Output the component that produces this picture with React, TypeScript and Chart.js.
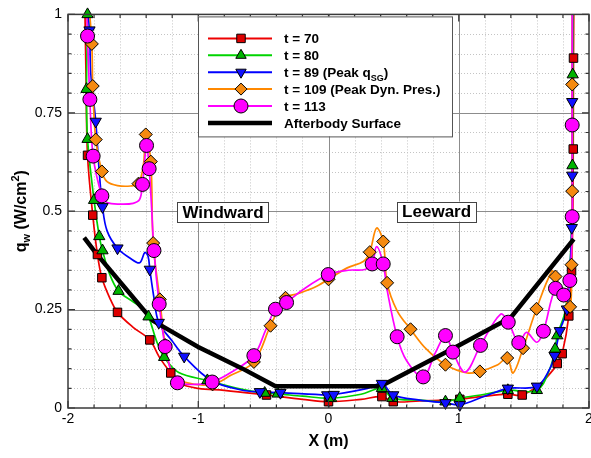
import React, { useEffect, useRef } from "react";
import { Chart, registerables } from "chart.js";
Chart.register(...registerables);

type Pt = [number, number];

const xTickValues = [-2, -1, 0, 1, 2];
const yTickValues = [0, 0.25, 0.5, 0.75, 1];

const t70Line: Pt[] = [
  [-1.872, 1.05], [-1.862, 0.85], [-1.85, 0.642], [-1.81, 0.49], [-1.774, 0.39], [-1.74, 0.331], [-1.68, 0.28],
  [-1.62, 0.243], [-1.5, 0.205], [-1.372, 0.173], [-1.3, 0.13], [-1.211, 0.089], [-1.14, 0.062], [-1.0, 0.05],
  [-0.8, 0.045], [-0.476, 0.033], [-0.2, 0.022], [0.0, 0.016], [0.25, 0.022], [0.41, 0.029], [0.497, 0.016],
  [0.7, 0.018], [0.9, 0.02], [1.008, 0.022], [1.2, 0.03], [1.377, 0.035], [1.487, 0.033], [1.62, 0.06],
  [1.72, 0.095], [1.756, 0.113], [1.794, 0.138], [1.845, 0.234], [1.866, 0.348], [1.876, 0.5], [1.879, 0.658],
  [1.881, 0.889], [1.884, 1.05],
];
const t70Marks: Pt[] = [
  [-1.85, 0.642], [-1.81, 0.49], [-1.774, 0.39], [-1.74, 0.331], [-1.62, 0.243], [-1.372, 0.173], [-1.211, 0.089],
  [-0.476, 0.033], [0.0, 0.016], [0.41, 0.029], [0.497, 0.016], [1.008, 0.022], [1.377, 0.035], [1.487, 0.033],
  [1.756, 0.113], [1.794, 0.138], [1.845, 0.234], [1.866, 0.348], [1.879, 0.658], [1.881, 0.889],
];

const t80Line: Pt[] = [
  [-1.858, 1.05], [-1.85, 1.0], [-1.858, 0.81], [-1.85, 0.683], [-1.8, 0.528], [-1.76, 0.436], [-1.735, 0.4],
  [-1.68, 0.34], [-1.612, 0.297], [-1.5, 0.27], [-1.42, 0.25], [-1.382, 0.232], [-1.32, 0.17], [-1.262, 0.129],
  [-1.15, 0.09], [-0.93, 0.07], [-0.7, 0.05], [-0.49, 0.038], [-0.39, 0.036], [-0.2, 0.03], [0.02, 0.025],
  [0.25, 0.035], [0.41, 0.05], [0.49, 0.025], [0.7, 0.02], [0.898, 0.016], [1.008, 0.025], [1.2, 0.035],
  [1.377, 0.045], [1.6, 0.045], [1.7, 0.1], [1.74, 0.15], [1.756, 0.184], [1.82, 0.25], [1.86, 0.4],
  [1.873, 0.616], [1.875, 0.847], [1.877, 1.05],
];
const t80Marks: Pt[] = [
  [-1.85, 1.0], [-1.858, 0.81], [-1.85, 0.683], [-1.8, 0.528], [-1.76, 0.436], [-1.735, 0.4], [-1.612, 0.297],
  [-1.382, 0.232], [-1.262, 0.129], [-0.93, 0.07], [-0.49, 0.038], [-0.39, 0.036], [0.02, 0.025], [0.41, 0.05],
  [0.49, 0.025], [0.898, 0.016], [1.008, 0.025], [1.377, 0.045], [1.6, 0.045], [1.74, 0.15], [1.756, 0.184],
  [1.873, 0.616], [1.875, 0.847],
];

const t89Line: Pt[] = [
  [-1.86, 1.05], [-1.835, 0.96], [-1.825, 0.85], [-1.787, 0.728], [-1.76, 0.6], [-1.735, 0.511], [-1.7, 0.45],
  [-1.62, 0.406], [-1.52, 0.38], [-1.45, 0.369], [-1.41, 0.395], [-1.385, 0.385], [-1.372, 0.352], [-1.34, 0.28],
  [-1.303, 0.217], [-1.2, 0.17], [-1.108, 0.131], [-0.9, 0.07], [-0.66, 0.045], [-0.527, 0.041], [-0.369, 0.039],
  [-0.01, 0.033], [0.04, 0.034], [0.3, 0.05], [0.41, 0.062], [0.497, 0.033], [0.7, 0.02], [0.898, 0.013],
  [1.008, 0.008], [1.2, 0.03], [1.377, 0.05], [1.6, 0.055], [1.7, 0.1], [1.735, 0.133], [1.776, 0.196],
  [1.83, 0.251], [1.868, 0.458], [1.871, 0.591], [1.871, 0.778], [1.873, 1.05],
];
const t89Marks: Pt[] = [
  [-1.835, 0.96], [-1.787, 0.728], [-1.735, 0.511], [-1.62, 0.406], [-1.372, 0.352], [-1.303, 0.217],
  [-1.108, 0.131], [-0.527, 0.041], [-0.369, 0.039], [-0.01, 0.033], [0.04, 0.034], [0.41, 0.062], [0.497, 0.033],
  [0.898, 0.013], [1.008, 0.008], [1.377, 0.05], [1.6, 0.055], [1.735, 0.133], [1.776, 0.196], [1.83, 0.251],
  [1.868, 0.458], [1.871, 0.591], [1.871, 0.778],
];

const t109Line: Pt[] = [
  [-1.845, 1.05], [-1.817, 0.925], [-1.81, 0.818], [-1.787, 0.682], [-1.74, 0.601], [-1.7, 0.575], [-1.62, 0.565],
  [-1.52, 0.564], [-1.459, 0.57], [-1.42, 0.62], [-1.403, 0.695], [-1.364, 0.626], [-1.346, 0.419], [-1.295, 0.276],
  [-1.254, 0.16], [-1.2, 0.09], [-1.1, 0.065], [-0.89, 0.06], [-0.75, 0.083], [-0.573, 0.117], [-0.445, 0.209],
  [-0.33, 0.28], [-0.24, 0.29], [-0.11, 0.306], [0.0, 0.327], [0.144, 0.356], [0.27, 0.373], [0.317, 0.396],
  [0.369, 0.457], [0.42, 0.423], [0.45, 0.318], [0.527, 0.247], [0.63, 0.2], [0.75, 0.15], [0.898, 0.11],
  [1.065, 0.089], [1.162, 0.093], [1.3, 0.11], [1.372, 0.127], [1.417, 0.089], [1.494, 0.152], [1.597, 0.252],
  [1.716, 0.348], [1.743, 0.334], [1.8, 0.29], [1.855, 0.257], [1.866, 0.364], [1.871, 0.551], [1.871, 0.822],
  [1.872, 1.05],
];
const t109Marks: Pt[] = [
  [-1.817, 0.925], [-1.81, 0.818], [-1.787, 0.682], [-1.74, 0.601], [-1.459, 0.57], [-1.403, 0.695],
  [-1.364, 0.626], [-1.346, 0.419], [-1.295, 0.276], [-1.254, 0.16], [-0.89, 0.06], [-0.573, 0.117],
  [-0.445, 0.209], [-0.33, 0.28], [0.0, 0.327], [0.317, 0.396], [0.42, 0.423], [0.45, 0.318], [0.63, 0.2],
  [0.898, 0.11], [1.162, 0.093], [1.372, 0.127], [1.494, 0.152], [1.597, 0.252], [1.743, 0.334], [1.855, 0.257],
  [1.866, 0.364], [1.871, 0.551], [1.871, 0.822],
];

const t113Line: Pt[] = [
  [-1.86, 1.05], [-1.85, 0.945], [-1.832, 0.784], [-1.807, 0.64], [-1.74, 0.539], [-1.7, 0.522], [-1.6, 0.518],
  [-1.5, 0.52], [-1.45, 0.53], [-1.428, 0.568], [-1.397, 0.667], [-1.377, 0.608], [-1.36, 0.52], [-1.34, 0.4],
  [-1.3, 0.264], [-1.254, 0.156], [-1.2, 0.085], [-1.16, 0.064], [-1.0, 0.06], [-0.893, 0.066], [-0.75, 0.09],
  [-0.573, 0.133], [-0.48, 0.2], [-0.407, 0.251], [-0.322, 0.268], [-0.2, 0.3], [-0.002, 0.339], [0.15, 0.35],
  [0.28, 0.352], [0.335, 0.366], [0.369, 0.41], [0.42, 0.366], [0.45, 0.3], [0.527, 0.181], [0.6, 0.12],
  [0.727, 0.079], [0.82, 0.14], [0.898, 0.184], [0.955, 0.142], [1.05, 0.091], [1.167, 0.159], [1.32, 0.238],
  [1.38, 0.218], [1.461, 0.166], [1.52, 0.192], [1.6, 0.167], [1.65, 0.195], [1.743, 0.304], [1.806, 0.287],
  [1.853, 0.324], [1.871, 0.486], [1.871, 0.719], [1.872, 1.05],
];
const t113Marks: Pt[] = [
  [-1.85, 0.945], [-1.832, 0.784], [-1.807, 0.64], [-1.74, 0.539], [-1.428, 0.568], [-1.397, 0.667],
  [-1.377, 0.608], [-1.34, 0.4], [-1.3, 0.264], [-1.254, 0.156], [-1.16, 0.064], [-0.893, 0.066],
  [-0.573, 0.133], [-0.407, 0.251], [-0.322, 0.268], [-0.002, 0.339], [0.335, 0.366], [0.42, 0.366],
  [0.527, 0.181], [0.727, 0.079], [0.898, 0.184], [0.955, 0.142], [1.167, 0.159], [1.38, 0.218], [1.461, 0.166],
  [1.65, 0.195], [1.743, 0.304], [1.806, 0.287], [1.853, 0.324], [1.871, 0.486], [1.871, 0.719],
];

const surfaceLine: Pt[] = [
  [-1.876, 0.433], [-1.787, 0.394], [-1.6, 0.32], [-1.35, 0.222], [-1.0, 0.155], [-0.66, 0.1], [-0.407, 0.055],
  [0.4, 0.055], [1.0, 0.159], [1.4, 0.23], [1.883, 0.429],
];

const legendLabels = [
  "t = 70",
  "t = 80",
  "t = 89 (Peak q_{SG})",
  "t = 109 (Peak Dyn. Pres.)",
  "t = 113",
  "Afterbody Surface",
];
const regionLabels = [
  { text: "Windward", x: -0.81, y: 0.497 },
  { text: "Leeward", x: 0.83, y: 0.499 },
];
const xTitle = "X (m)";
const yTitle = "q_{w} (W/cm^{2})";

const FONT = "'Liberation Sans', Arial, Helvetica, sans-serif";

type Shape = "rect" | "triUp" | "triDown" | "diamond" | "circle";
const series = [
  { line: t70Line, marks: t70Marks, color: "#ee0000", fill: "#dd0000", shape: "rect" as Shape, r: 6 },
  { line: t80Line, marks: t80Marks, color: "#00d400", fill: "#00b400", shape: "triUp" as Shape, r: 6.5 },
  { line: t89Line, marks: t89Marks, color: "#0000ff", fill: "#1010ff", shape: "triDown" as Shape, r: 6.5 },
  { line: t109Line, marks: t109Marks, color: "#ff8800", fill: "#f58a10", shape: "diamond" as Shape, r: 6.5 },
  { line: t113Line, marks: t113Marks, color: "#ff00ff", fill: "#ff00ff", shape: "circle" as Shape, r: 7 },
];

const cjsStyle = (s: Shape) =>
  s === "rect" ? "rect" : s === "triUp" || s === "triDown" ? "triangle" : s === "diamond" ? "rectRot" : "circle";

function parseRich(s: string) {
  const parts: { t: string; k: "n" | "sub" | "sup" }[] = [];
  const re = /(_\{[^}]*\}|\^\{[^}]*\})/g;
  let last = 0;
  let m: RegExpExecArray | null;
  while ((m = re.exec(s))) {
    if (m.index > last) parts.push({ t: s.slice(last, m.index), k: "n" });
    parts.push({ t: m[0].slice(2, -1), k: m[0][0] === "_" ? "sub" : "sup" });
    last = m.index + m[0].length;
  }
  if (last < s.length) parts.push({ t: s.slice(last), k: "n" });
  return parts;
}

function drawRich(ctx: CanvasRenderingContext2D, s: string, x: number, y: number, size: number, align: "left" | "center") {
  const parts = parseRich(s);
  const small = Math.round(size * 0.68);
  const fontOf = (k: string) => `bold ${k === "n" ? size : small}px ${FONT}`;
  let total = 0;
  for (const p of parts) {
    ctx.font = fontOf(p.k);
    total += ctx.measureText(p.t).width;
  }
  let cx = align === "center" ? x - total / 2 : x;
  ctx.textAlign = "left";
  ctx.textBaseline = "alphabetic";
  const base = y + size * 0.36;
  for (const p of parts) {
    ctx.font = fontOf(p.k);
    const dy = p.k === "sub" ? size * 0.28 : p.k === "sup" ? -size * 0.4 : 0;
    ctx.fillText(p.t, cx, base + dy);
    cx += ctx.measureText(p.t).width;
  }
}

function drawMarker(ctx: CanvasRenderingContext2D, shape: Shape, x: number, y: number, r: number, fill: string) {
  ctx.beginPath();
  if (shape === "rect") {
    const s = r * Math.SQRT1_2;
    ctx.rect(x - s, y - s, 2 * s, 2 * s);
  } else if (shape === "triUp" || shape === "triDown") {
    const d = shape === "triUp" ? 1 : -1;
    for (let i = 0; i < 3; i++) {
      const a = (i * 2 * Math.PI) / 3;
      const px = x + Math.sin(a) * r;
      const py = y - d * Math.cos(a) * r;
      if (i === 0) ctx.moveTo(px, py);
      else ctx.lineTo(px, py);
    }
    ctx.closePath();
  } else if (shape === "diamond") {
    ctx.moveTo(x - r, y);
    ctx.lineTo(x, y - r);
    ctx.lineTo(x + r, y);
    ctx.lineTo(x, y + r);
    ctx.closePath();
  } else {
    ctx.arc(x, y, r, 0, Math.PI * 2);
  }
  ctx.fillStyle = fill;
  ctx.fill();
  ctx.lineWidth = 1;
  ctx.strokeStyle = "#000";
  ctx.stroke();
}

const decoPlugin = {
  id: "deco",
  beforeDatasetsDraw(chart: any) {
    const { ctx, chartArea: a, scales } = chart;
    const xs = scales.x;
    const ys = scales.y;
    ctx.save();
    ctx.lineWidth = 1;
    ctx.strokeStyle = "#c4c4c4";
    ctx.setLineDash([1, 2]);
    for (let i = 1; i < 20; i++) {
      if (i % 5 === 0) continue;
      const px = Math.round(xs.getPixelForValue(-2 + i * 0.2)) + 0.5;
      ctx.beginPath();
      ctx.moveTo(px, a.top);
      ctx.lineTo(px, a.bottom);
      ctx.stroke();
      const py = Math.round(ys.getPixelForValue(i * 0.05)) + 0.5;
      ctx.beginPath();
      ctx.moveTo(a.left, py);
      ctx.lineTo(a.right, py);
      ctx.stroke();
    }
    ctx.setLineDash([]);
    ctx.strokeStyle = "#8c8c8c";
    for (let i = 1; i < 4; i++) {
      const px = Math.round(xs.getPixelForValue(xTickValues[i])) + 0.5;
      ctx.beginPath();
      ctx.moveTo(px, a.top);
      ctx.lineTo(px, a.bottom);
      ctx.stroke();
      const py = Math.round(ys.getPixelForValue(yTickValues[i])) + 0.5;
      ctx.beginPath();
      ctx.moveTo(a.left, py);
      ctx.lineTo(a.right, py);
      ctx.stroke();
    }
    ctx.restore();
  },
  afterDatasetsDraw(chart: any) {
    const { ctx, chartArea: a, scales } = chart;
    const xs = scales.x;
    const ys = scales.y;
    ctx.save();
    ctx.strokeStyle = "#333";
    ctx.lineWidth = 1.2;
    for (let i = 0; i <= 20; i++) {
      const len = i % 5 === 0 ? 7 : 3.5;
      const px = xs.getPixelForValue(-2 + i * 0.2);
      ctx.beginPath();
      ctx.moveTo(px, a.bottom);
      ctx.lineTo(px, a.bottom - len);
      ctx.moveTo(px, a.top);
      ctx.lineTo(px, a.top + len);
      ctx.stroke();
      const py = ys.getPixelForValue(i * 0.05);
      ctx.beginPath();
      ctx.moveTo(a.left, py);
      ctx.lineTo(a.left + len, py);
      ctx.moveTo(a.right, py);
      ctx.lineTo(a.right - len, py);
      ctx.stroke();
    }
    ctx.strokeStyle = "#3a3a3a";
    ctx.lineWidth = 1.5;
    ctx.strokeRect(a.left, a.top, a.right - a.left, a.bottom - a.top);

    for (const lab of regionLabels) {
      const cx = xs.getPixelForValue(lab.x);
      const cy = ys.getPixelForValue(lab.y);
      ctx.font = `bold 17px ${FONT}`;
      const w = ctx.measureText(lab.text).width + 10;
      const h = 20;
      ctx.fillStyle = "#fff";
      ctx.fillRect(cx - w / 2, cy - h / 2, w, h);
      ctx.strokeStyle = "#444";
      ctx.lineWidth = 1;
      ctx.strokeRect(Math.round(cx - w / 2) + 0.5, Math.round(cy - h / 2) + 0.5, Math.round(w), h);
      ctx.fillStyle = "#000";
      ctx.textAlign = "center";
      ctx.textBaseline = "middle";
      ctx.fillText(lab.text, cx, cy + 1);
    }

    const lx = a.left + 130;
    const ly = a.top + 2;
    const lw = 254;
    const lh = 120;
    ctx.fillStyle = "#fff";
    ctx.fillRect(lx, ly, lw, lh);
    ctx.strokeStyle = "#555";
    ctx.lineWidth = 1;
    ctx.strokeRect(lx + 0.5, ly + 0.5, lw, lh);
    for (let i = 0; i < legendLabels.length; i++) {
      const ry = ly + 22 + i * 16.9;
      if (i < series.length) {
        const s = series[i];
        ctx.strokeStyle = s.color;
        ctx.lineWidth = 2;
        ctx.beginPath();
        ctx.moveTo(lx + 10, ry);
        ctx.lineTo(lx + 74, ry);
        ctx.stroke();
        drawMarker(ctx, s.shape, lx + 43, ry, s.shape === "circle" ? 7 : 6, s.fill);
      } else {
        ctx.strokeStyle = "#000";
        ctx.lineWidth = 4.5;
        ctx.beginPath();
        ctx.moveTo(lx + 10, ry);
        ctx.lineTo(lx + 74, ry);
        ctx.stroke();
      }
      ctx.fillStyle = "#000";
      drawRich(ctx, legendLabels[i], lx + 86, ry, 13.5, "left");
    }

    ctx.fillStyle = "#000";
    drawRich(ctx, xTitle, (a.left + a.right) / 2, 440, 16, "center");
    ctx.translate(20, (a.top + a.bottom) / 2);
    ctx.rotate(-Math.PI / 2);
    drawRich(ctx, yTitle, 0, 0, 16, "center");
    ctx.restore();
  },
};

export default function App() {
  const ref = useRef<HTMLCanvasElement | null>(null);
  useEffect(() => {
    if (!ref.current) return;
    const order = [4, 3, 2, 1, 0];
    const markerSets = order.map((i) => {
      const s = series[i];
      return {
        data: s.marks.map(([x, y]) => ({ x, y })),
        showLine: false,
        clip: 9,
        pointStyle: cjsStyle(s.shape),
        pointRotation: s.shape === "triDown" ? 180 : 0,
        pointRadius: s.r,
        pointBackgroundColor: s.fill,
        pointBorderColor: "#000",
        pointBorderWidth: 1,
      };
    });
    const surfaceSet = {
      data: surfaceLine.map(([x, y]) => ({ x, y })),
      showLine: true,
      borderColor: "#000",
      borderWidth: 4.5,
      pointRadius: 0,
      tension: 0,
    };
    const lineSets = order.map((i) => {
      const s = series[i];
      return {
        data: s.line.map(([x, y]) => ({ x, y })),
        showLine: true,
        borderColor: s.color,
        borderWidth: 1.7,
        pointRadius: 0,
        tension: 0.35,
      };
    });
    const chart = new Chart(ref.current, {
      type: "scatter",
      data: { datasets: [...markerSets, surfaceSet, ...lineSets] as any },
      options: {
        responsive: false,
        animation: false,
        events: [],
        layout: { padding: { top: 11, right: 11, left: 0, bottom: 0 } },
        plugins: { legend: { display: false }, tooltip: { enabled: false } },
        scales: {
          x: {
            type: "linear",
            min: -2,
            max: 2,
            afterBuildTicks: (s: any) => {
              s.ticks = xTickValues.map((v) => ({ value: v }));
            },
            afterFit: (s: any) => {
              s.height = 50;
            },
            grid: { display: false, drawTicks: false },
            border: { display: false },
            ticks: {
              color: "#000",
              font: { family: FONT, size: 14 },
              padding: 3,
              maxRotation: 0,
              autoSkip: false,
              callback: (v: any) => String(v),
            },
          },
          y: {
            type: "linear",
            min: 0,
            max: 1,
            afterBuildTicks: (s: any) => {
              s.ticks = yTickValues.map((v) => ({ value: v }));
            },
            afterFit: (s: any) => {
              s.width = 68;
            },
            grid: { display: false, drawTicks: false },
            border: { display: false },
            ticks: {
              color: "#000",
              font: { family: FONT, size: 14 },
              padding: 6,
              autoSkip: false,
              callback: (v: any) => String(v),
            },
          },
        },
      },
      plugins: [decoPlugin],
    });
    return () => chart.destroy();
  }, []);
  return (
    <div style={{ position: "absolute", left: 0, top: 0, width: 591, height: 458, overflow: "hidden", background: "#fff" }}>
      <canvas ref={ref} width={600} height={458} style={{ width: 600, height: 458, display: "block" }} />
    </div>
  );
}
